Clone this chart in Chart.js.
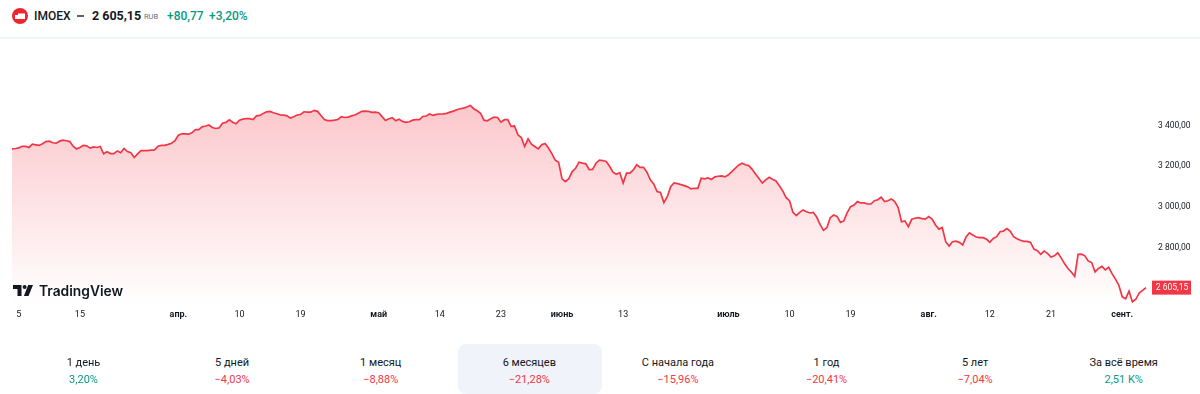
<!DOCTYPE html>
<html lang="ru">
  <head>
    <meta charset="UTF-8" />
    <title>IMOEX</title>
    <style>
      html, body { margin: 0; padding: 0; background: #fff; overflow: hidden; }
      body { width: 1200px; height: 394px; position: relative; font-family: Roboto, sans-serif; color: #131722; }
      .abs { position: absolute; white-space: nowrap; line-height: 16px; }
      .sep { position: absolute; left: 0; top: 37px; width: 1200px; height: 2px; background: #f0f3fa; }
      #chartBox { position: absolute; left: 0; top: 39px; width: 1200px; height: 286px; }
      .active { position: absolute; left: 458px; top: 344px; width: 144px; height: 50px; background: #f0f3fa; border-radius: 8px; }
      .tab { position: absolute; top: 354px; width: 148px; text-align: center; font-size: 11px; line-height: 17px; }
      .tab b { display: block; font-weight: 400; }
      .up { color: #089981; }
      .down { color: #f23645; }
    </style>
  </head>
  <body>
    <svg class="abs" style="left:12px;top:8px" width="16" height="16" viewBox="0 0 16 16">
      <circle cx="8" cy="8" r="8" fill="#f0262f" />
      <path d="M3 11V7h3V5.5h7V11z" fill="#fff" />
    </svg>
    <div class="abs" style="left:34px;top:8px;font-size:12px;font-weight:500">IMOEX</div>
    <div class="abs" style="left:77px;top:15px;width:7px;height:2px;background:#5d606b"></div>
    <div class="abs" style="left:92px;top:8px;font-size:12.5px;font-weight:700">2 605,15</div>
    <div class="abs" style="left:144px;top:9px;font-size:7.5px;color:#6a6d78">RUB</div>
    <div class="abs up" style="left:167px;top:8px;font-size:12px;font-weight:500">+80,77</div>
    <div class="abs up" style="left:209px;top:8px;font-size:12px;font-weight:500">+3,20%</div>
    <div class="sep"></div>

    <div id="chartBox"><canvas id="myChart" width="1200" height="286"></canvas></div>

    <svg class="abs" style="left:13px;top:285px" width="20" height="11" viewBox="0 0 20 11">
      <path d="M0 0h8.5v11h-4V4H0zM20 0l-4.5 11h-4.6L15.2 0z" fill="#131722" />
      <circle cx="11.6" cy="2" r="2" fill="#131722" />
    </svg>
    <div class="abs" style="left:39px;top:283px;font:600 13.8px/16px Inter, sans-serif">TradingView</div>

    <div class="active"></div>
    <div id="tabs"></div>

    <script src="https://cdn.jsdelivr.net/npm/chart.js"></script>
    <script>
      const closes = [
        3285, 3287, 3290, 3298, 3297, 3292, 3308, 3305, 3302, 3310, 3321, 3323, 3315, 3313, 3323, 3328, 3325, 3321, 3298, 3285,
        3292, 3302, 3300, 3289, 3295, 3292, 3297, 3261, 3271, 3262, 3262, 3275, 3266, 3287, 3272, 3266, 3243, 3261, 3277, 3277,
        3277, 3279, 3280, 3298, 3302, 3302, 3307, 3313, 3325, 3352, 3359, 3359, 3357, 3364, 3379, 3379, 3393, 3397, 3402, 3390,
        3385, 3388, 3411, 3415, 3428, 3416, 3408, 3426, 3431, 3434, 3433, 3429, 3447, 3449, 3459, 3467, 3469, 3462, 3457, 3452,
        3451, 3447, 3436, 3443, 3451,
        3454, 3467, 3465, 3465, 3474, 3469, 3449, 3429, 3424, 3424, 3426, 3429, 3443, 3439, 3441, 3447, 3451, 3460, 3469, 3470,
        3469, 3464, 3465, 3462, 3443, 3424, 3433, 3438, 3423, 3431, 3420, 3415, 3418, 3426, 3428, 3428, 3444, 3446, 3456, 3449,
        3454, 3456, 3457, 3459, 3465, 3470, 3477, 3482, 3485, 3490, 3498, 3482, 3472, 3460, 3426, 3423, 3433, 3441, 3439, 3416,
        3428, 3428, 3395, 3397, 3354, 3341, 3297, 3334, 3308, 3297, 3285, 3305, 3311, 3289, 3262, 3230, 3220, 3138, 3125, 3139,
        3174, 3190, 3220, 3215, 3212, 3184, 3185, 3215,
        3230, 3228, 3223, 3200, 3171, 3161, 3169, 3118, 3166, 3166, 3182, 3207, 3194, 3195, 3171, 3133, 3113, 3076, 3072, 3022,
        3051, 3100, 3118, 3115, 3110, 3105, 3099, 3089, 3092, 3092, 3141, 3138, 3143, 3135, 3148, 3151, 3153, 3148, 3158, 3174,
        3190, 3205, 3215, 3207, 3203, 3185, 3162, 3140, 3118, 3133, 3146, 3136, 3128, 3105, 3079, 3046, 3031, 2974, 2958, 2974,
        2986, 2977, 2971, 2974, 2951, 2915, 2886, 2899, 2948, 2961, 2954, 2925, 2932, 2973, 3002, 3010, 3027, 3020, 3020, 3015,
        3015, 3031, 3036, 3048, 3027, 3031, 3040, 3027, 2997,
        2928, 2932, 2904, 2940, 2945, 2948, 2943, 2941, 2953, 2941, 2912, 2892, 2900, 2830, 2809, 2830, 2833, 2827, 2814,
        2853, 2874, 2863, 2853, 2850, 2850, 2843, 2827, 2846, 2855, 2879, 2882, 2895, 2882, 2855, 2845, 2837, 2832, 2832, 2827,
        2794, 2786, 2768, 2784, 2773, 2755, 2761, 2776, 2751, 2723, 2699, 2682, 2660, 2768, 2769, 2761, 2735, 2728, 2682, 2699,
        2709, 2692, 2705, 2674, 2647, 2617, 2560, 2550, 2588, 2535, 2548, 2579, 2592, 2605.15,
      ];
      const tickLabels = ["5", "15", "апр.", "10", "19", "май", "14", "23", "июнь", "13", "июль", "10", "19", "авг.", "12", "21", "сент."];
      const tickSessions = [2, 20, 49, 67, 85, 108, 126, 144, 162, 180, 211, 229, 247, 270, 288, 306, 327];
      const monthTicks = ["апр.", "май", "июнь", "июль", "авг.", "сент."];
      const priceTicks = [2800, 3000, 3200, 3400];
      const priceMin = 2520;
      const priceMax = 3779;

      const tabNames = ["1 день", "5 дней", "1 месяц", "6 месяцев", "С начала года", "1 год", "5 лет", "За всё время"];
      const tabValues = ["3,20%", "−4,03%", "−8,88%", "−21,28%", "−15,96%", "−20,41%", "−7,04%", "2,51 K%"];

      const sessions = closes.map((c, i) => {
        const at = tickSessions.indexOf(i);
        return at >= 0 ? tickLabels[at] : "";
      });

      function money(v) {
        const parts = v.toFixed(2).split(".");
        return parts[0].replace(/\B(?=(\d{3})+$)/g, " ") + "," + parts[1];
      }

      // last price badge on the price axis
      const lastPriceBadge = {
        id: "lastPriceBadge",
        afterDraw(chart) {
          const last = closes[closes.length - 1];
          const y = chart.scales.y.getPixelForValue(last);
          const c = chart.ctx;
          c.save();
          c.fillStyle = "#f23645";
          c.fillRect(1152, y - 7, 39, 14);
          c.fillStyle = "#fff";
          c.font = "8.5px Roboto";
          c.textAlign = "center";
          c.textBaseline = "middle";
          c.fillText(money(last), 1172, y + 0.5);
          c.restore();
        },
      };

      new Chart(document.getElementById("myChart"), {
        type: "line",
        data: {
          labels: sessions,
          datasets: [
            {
              data: closes,
              borderColor: "#f23645",
              borderWidth: 1.7,
              pointRadius: 0,
              tension: 0,
              fill: "start",
              backgroundColor: (ctx) => {
                const area = ctx.chart.chartArea;
                if (!area) return "transparent";
                const g = ctx.chart.ctx.createLinearGradient(0, 65, 0, area.bottom);
                g.addColorStop(0, "rgba(242,54,69,0.28)");
                g.addColorStop(1, "rgba(242,54,69,0)");
                return g;
              },
            },
          ],
        },
        options: {
          responsive: false,
          animation: false,
          layout: { padding: { left: 12, top: 0, right: 0, bottom: 0 } },
          plugins: { legend: { display: false }, tooltip: { enabled: false } },
          scales: {
            x: {
              type: "category",
              grid: { display: false },
              border: { display: false },
              afterBuildTicks: (s) => {
                s.ticks = s.ticks.filter((t) => tickSessions.includes(t.value));
              },
              afterFit: (s) => {
                s.height = 20;
              },
              ticks: {
                autoSkip: false,
                maxRotation: 0,
                padding: -4,
                color: "#131722",
                font: (ctx) => ({
                  family: "Roboto",
                  size: 9,
                  weight: ctx.tick && monthTicks.includes(ctx.tick.label) ? "700" : "400",
                }),
              },
            },
            y: {
              position: "right",
              min: priceMin,
              max: priceMax,
              grid: { display: false },
              border: { display: false },
              afterBuildTicks: (s) => {
                s.ticks = priceTicks.map((value) => ({ value }));
              },
              afterFit: (s) => {
                s.width = 54;
              },
              ticks: {
                padding: 4,
                color: "#131722",
                font: { family: "Roboto", size: 8.5 },
                callback: (v) => money(v),
              },
            },
          },
        },
        plugins: [lastPriceBadge],
      });

      const tabs = document.getElementById("tabs");
      tabNames.forEach((name, i) => {
        const t = document.createElement("div");
        t.className = "tab";
        t.style.left = 9.5 + i * 148.6 + "px";
        const cls = tabValues[i].startsWith("−") ? "down" : "up";
        t.innerHTML = "<b>" + name + '</b><span class="' + cls + '">' + tabValues[i] + "</span>";
        tabs.appendChild(t);
      });
    </script>
  </body>
</html>
